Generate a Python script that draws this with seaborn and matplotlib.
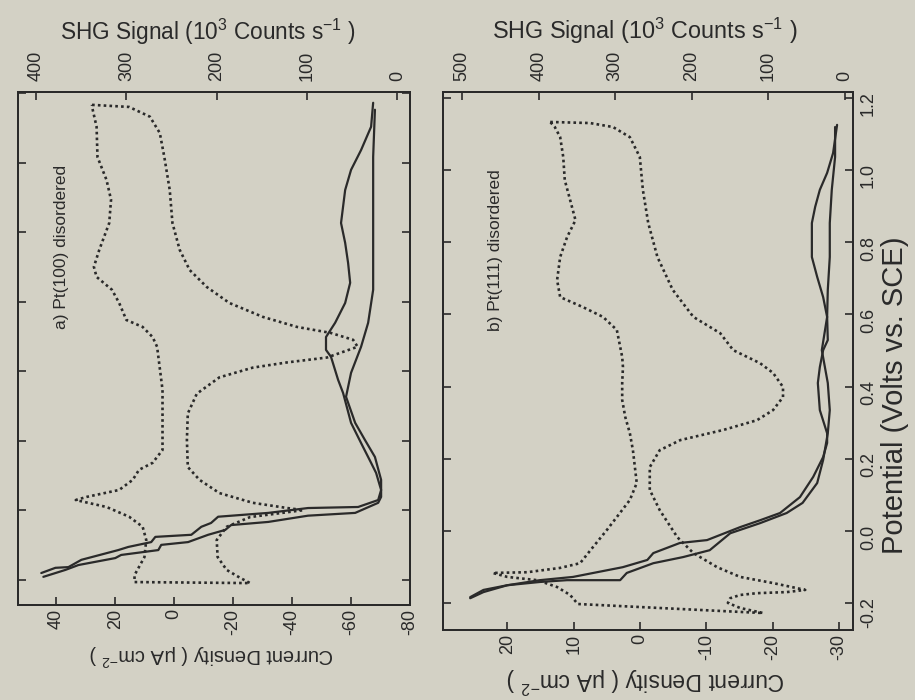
import matplotlib
matplotlib.use('Agg')
import numpy as np
import pandas as pd
import seaborn as sns
import matplotlib.pyplot as plt

# ---- panel a: Pt(100) disordered ----
# cyclic voltammogram, two sweeps (potential V vs SCE, current uA cm-2)
cv_a1_V = [1.173, 1.104, 1.037, 0.980, 0.922, 0.827, 0.770, 0.712, 0.655, 0.597,
           0.540, 0.499, 0.462, 0.442, 0.376, 0.338, 0.252, 0.194, 0.137, 0.108,
           0.059, 0.030, 0.010, 0.007, -0.007, -0.018, -0.036, -0.047, -0.070, -0.076,
           -0.091, -0.105, -0.114, -0.142, -0.163, -0.165, -0.180]
cv_a1_I = [-67.5, -66.8, -63.4, -60.0, -58.0, -56.6, -58.0, -59.0, -59.7, -58.0,
           -54.6, -51.5, -51.5, -53.2, -55.6, -57.3, -60.0, -63.4, -66.8, -68.5,
           -70.2, -69.2, -62.4, -45.4, -31.9, -14.9, -12.5, -9.2, -5.8, 6.4,
           7.8, 15.6, 19.0, 31.5, 35.9, 40.3, 45.1]
cv_a2_V = [1.153, 1.017, 0.922, 0.827, 0.729, 0.635, 0.540, 0.471, 0.396, 0.327,
           0.252, 0.203, 0.154, 0.088, 0.039, 0.022, -0.007, -0.015, -0.033, -0.042,
           -0.056, -0.070, -0.091, -0.099, -0.114, -0.128, -0.137, -0.157, -0.171, -0.191]
cv_a2_I = [-68.1, -67.5, -67.5, -67.5, -67.5, -67.5, -65.8, -63.4, -60.0, -58.3,
           -61.4, -64.7, -68.1, -70.2, -70.2, -69.2, -61.4, -45.4, -31.9, -19.3,
           -17.3, -11.5, -4.7, 4.4, 5.4, 18.0, 20.0, 32.5, 36.9, 44.4]
# SHG signal (10^3 counts/s), closed loop
shg_a_V = [1.167, 1.161, 1.133, 1.086, 1.017, 0.922, 0.827, 0.750, 0.692, 0.643,
           0.597, 0.557, 0.528, 0.511, 0.491, 0.471, 0.440, 0.426, 0.411, 0.383,
           0.336, 0.279, 0.203, 0.125, 0.088, 0.050, 0.022, 0.007, 0.001, -0.019,
           -0.047, -0.085, -0.134, -0.171, -0.194, -0.209, -0.206, -0.186, -0.134, -0.085,
           -0.047, -0.018, 0.010, 0.030, 0.039, 0.059, 0.088, 0.117, 0.137, 0.174,
           0.252, 0.347, 0.471, 0.499, 0.528, 0.548, 0.597, 0.635, 0.672, 0.701,
           0.750, 0.827, 0.894, 0.951, 1.017, 1.104, 1.161, 1.167]
shg_a_S = [338, 297, 274, 263, 258, 252, 249, 241, 230, 211,
           186, 149, 111, 74, 49, 44, 78, 122, 160, 197,
           222, 232, 233, 232, 219, 197, 160, 122, 104, 163,
           189, 200, 199, 189, 174, 163, 291, 291, 280, 278,
           282, 297, 322, 356, 344, 308, 293, 286, 271, 260,
           260, 260, 266, 271, 282, 300, 308, 316, 333, 336,
           330, 319, 317, 322, 332, 333, 338, 338]

# ---- panel b: Pt(111) disordered ----
cv_b1_V = [1.125, 1.047, 0.992, 0.945, 0.898, 0.853, 0.759, 0.704, 0.648, 0.593,
           0.529, 0.501, 0.454, 0.410, 0.335, 0.271, 0.244, 0.205, 0.150, 0.094,
           0.050, 0.030, 0.011, -0.025, -0.033, -0.061, -0.080, -0.100, -0.127, -0.136,
           -0.150, -0.163, -0.183]
cv_b1_I = [-29.7, -29.1, -28.2, -27.1, -26.4, -25.9, -25.9, -26.7, -27.6, -28.2,
           -28.3, -27.6, -27.1, -26.8, -27.1, -28.2, -28.2, -27.6, -26.1, -24.1,
           -21.1, -18.1, -15.1, -10.1, -6.0, -2.0, -1.1, 2.6, 10.1, 15.1,
           20.0, 23.6, 25.6]
cv_b2_V = [1.119, 1.036, 0.945, 0.853, 0.759, 0.668, 0.593, 0.501, 0.410, 0.335,
           0.271, 0.197, 0.133, 0.078, 0.050, 0.022, -0.006, -0.053, -0.072, -0.089,
           -0.116, -0.136, -0.136, -0.141, -0.150, -0.169, -0.186]
cv_b2_I = [-29.4, -29.4, -28.9, -28.6, -28.6, -28.3, -28.2, -27.4, -28.3, -28.6,
           -28.3, -27.6, -26.7, -24.5, -22.1, -18.1, -13.6, -10.5, -6.5, -2.0,
           2.0, 3.0, 11.0, 15.1, 20.0, 23.6, 25.6]
shg_b_V = [1.133, 1.130, 1.119, 1.091, 1.036, 0.945, 0.853, 0.759, 0.668, 0.593,
           0.548, 0.501, 0.465, 0.438, 0.399, 0.371, 0.335, 0.307, 0.280, 0.252,
           0.224, 0.177, 0.114, 0.058, -0.017, -0.061, -0.100, -0.127, -0.144, -0.163,
           -0.169, -0.172, -0.177, -0.186, -0.199, -0.213, -0.227, -0.202, -0.177, -0.155,
           -0.136, -0.127, -0.116, -0.114, -0.102, -0.089, -0.044, 0.003, 0.050, 0.086,
           0.133, 0.224, 0.271, 0.316, 0.363, 0.410, 0.454, 0.482, 0.557, 0.593,
           0.620, 0.648, 0.695, 0.759, 0.814, 0.861, 0.917, 0.972, 1.036, 1.091,
           1.119, 1.133]
shg_b_S = [385, 333, 303, 281, 268, 264, 257, 245, 225, 198,
           163, 146, 111, 94, 81, 81, 94, 115, 159, 215,
           242, 255, 255, 242, 219, 198, 167, 137, 94, 52,
           76, 115, 137, 150, 153, 137, 107, 349, 359, 376,
           402, 441, 460, 415, 372, 346, 329, 311, 294, 281,
           272, 277, 281, 287, 291, 291, 290, 291, 298, 316,
           342, 372, 376, 372, 363, 352, 359, 366, 368, 372,
           379, 385]

pot_ticks = [-0.2, 0.0, 0.2, 0.4, 0.6, 0.8, 1.0, 1.2]
cur_ticks_a = [40, 20, 0, -20, -40, -60, -80]
cur_ticks_b = [20, 10, 0, -10, -20, -30]
shg_ticks_a = [0, 100, 200, 300, 400]
shg_ticks_b = [0, 100, 200, 300, 400, 500]

sns.set_theme(style='ticks')
plt.rcParams['font.family'] = ['Liberation Sans', 'DejaVu Sans']
plt.rcParams['mathtext.fontset'] = 'custom'
plt.rcParams['mathtext.rm'] = 'Liberation Sans'
plt.rcParams['mathtext.default'] = 'regular'
plt.rcParams['axes.unicode_minus'] = False

paper = '#d3d1c5'
ink = '#2a2a2a'
W, H = 915, 700

fig = plt.figure(figsize=(9.15, 7.0), dpi=100, facecolor=paper)


def rect(x0, y0, x1, y1):
	return [x0 / W, 1 - y1 / H, (x1 - x0) / W, (y1 - y0) / H]


def panel(box, ilim, slim, vlim, iticks, sticks, cvs, shg, right_labels):
	ax = fig.add_axes(box, facecolor=paper)
	for v, i in cvs:
		d = pd.DataFrame({'V': v, 'I': i})
		sns.lineplot(data=d, x='I', y='V', sort=False, estimator=None,
					 color=ink, lw=1.6, ax=ax)
	ax2 = ax.twiny()
	d = pd.DataFrame({'V': shg[0], 'S': shg[1]})
	sns.lineplot(data=d, x='S', y='V', sort=False, estimator=None, color=ink,
				 lw=1.9, linestyle=(0, (1.0, 1.2)), ax=ax2)

	ax.set_xlim(*ilim)
	ax2.set_xlim(*slim)
	ax.set_ylim(*vlim)
	ax.set_xticks(iticks)
	ax.set_xticklabels([str(t) for t in iticks])
	ax2.set_xticks(sticks)
	ax2.set_xticklabels([str(t) for t in sticks])
	ax.set_yticks(pot_ticks)
	ax.set_yticklabels(['%.1f' % t for t in pot_ticks])
	for a in (ax, ax2):
		a.set_xlabel('')
		a.set_ylabel('')
		for s in a.spines.values():
			s.set_linewidth(1.4)
			s.set_color(ink)
	ax.tick_params(axis='x', direction='in', length=6, width=1.2, labelsize=13,
				   labelrotation=90, pad=3, color=ink, labelcolor=ink)
	ax.tick_params(axis='y', direction='in', length=6, width=1.2, left=True, right=True,
				   labelleft=False, labelright=right_labels, labelsize=13,
				   labelrotation=90, pad=5, color=ink, labelcolor=ink)
	ax2.tick_params(axis='x', direction='in', length=6, width=1.2, labelsize=13,
					labelrotation=90, pad=8, color=ink, labelcolor=ink)
	return ax, ax2


panel(rect(18, 92, 410, 605), (53, -79.5), (420, -14), (-0.272, 1.204),
	  cur_ticks_a, shg_ticks_a,
	  [(cv_a1_V, cv_a1_I), (cv_a2_V, cv_a2_I)], (shg_a_V, shg_a_S), False)
panel(rect(443, 92, 853, 630), (29.7, -32.1), (525, -10.4), (-0.274, 1.216),
	  cur_ticks_b, shg_ticks_b,
	  [(cv_b1_V, cv_b1_I), (cv_b2_V, cv_b2_I)], (shg_b_V, shg_b_S), True)

shg_label = r'SHG Signal (10$^3$ Counts s$^{-1}$ )'
cur_label = r'Current Density ( μA cm$^{-2}$ )'
fig.text(208 / W, 1 - 32 / H, shg_label, ha='center', va='center', fontsize=16.3, color=ink)
fig.text(645 / W, 1 - 31 / H, shg_label, ha='center', va='center', fontsize=16.8, color=ink)
fig.text(212 / W, 1 - 655 / H, cur_label, ha='center', va='center', fontsize=14.5,
		 rotation=180, color=ink)
fig.text(646 / W, 1 - 680 / H, cur_label, ha='center', va='center', fontsize=16.5,
		 rotation=180, color=ink)
fig.text(895 / W, 1 - 395 / H, 'Potential (Volts vs. SCE)', ha='center', va='center',
		 fontsize=21, rotation=90, color=ink)
fig.text(62 / W, 1 - 247 / H, 'a) Pt(100) disordered', ha='center', va='center',
		 fontsize=12.5, rotation=90, color=ink)
fig.text(496 / W, 1 - 250 / H, 'b) Pt(111) disordered', ha='center', va='center',
		 fontsize=12.5, rotation=90, color=ink)

fig.savefig('out.png', dpi=100, facecolor=paper)
